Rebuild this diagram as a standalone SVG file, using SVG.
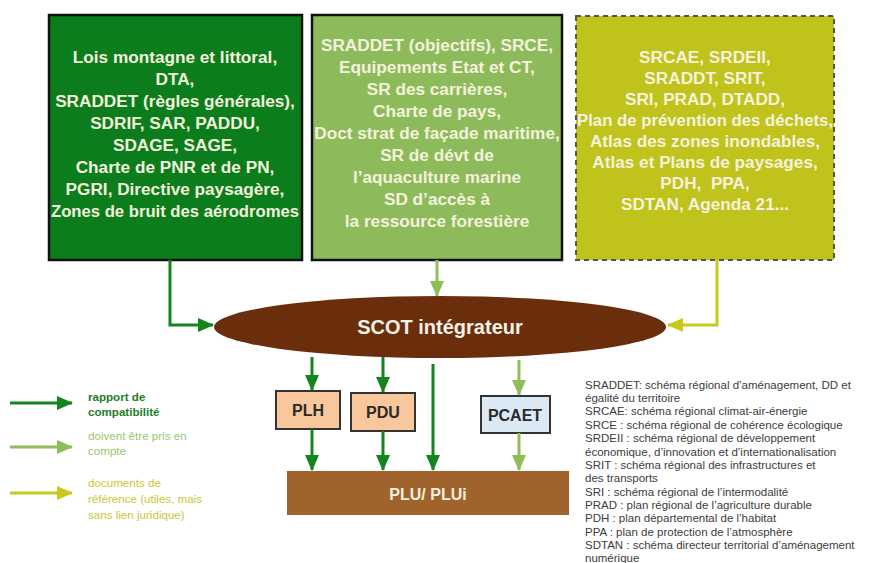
<svg xmlns="http://www.w3.org/2000/svg" width="869" height="563" viewBox="0 0 869 563">
<style>
.bt{font-family:"Liberation Sans",Arial,sans-serif;font-weight:bold;font-size:17.2px;fill:#f4f2dc;text-anchor:middle}
.lg{font-family:"Liberation Sans",Arial,sans-serif;font-size:11.6px}
.gl{font-family:"Liberation Sans",Arial,sans-serif;font-size:11.5px;fill:#3c3c3c}
.dg{stroke:#14851c;stroke-width:3;fill:none}
.lgr{stroke:#8fbd5a;stroke-width:3;fill:none}
.yl{stroke:#c9c81c;stroke-width:3;fill:none}
.sb{stroke:#333;stroke-width:2}
</style>
<defs>
<marker id="ad" markerUnits="userSpaceOnUse" markerWidth="16" markerHeight="14" refX="15" refY="7" orient="auto"><path d="M0,0 L16,7 L0,14 Z" fill="#14851c"/></marker>
<marker id="al" markerUnits="userSpaceOnUse" markerWidth="16" markerHeight="14" refX="15" refY="7" orient="auto"><path d="M0,0 L16,7 L0,14 Z" fill="#8fbd5a"/></marker>
<marker id="ay" markerUnits="userSpaceOnUse" markerWidth="16" markerHeight="14" refX="15" refY="7" orient="auto"><path d="M0,0 L16,7 L0,14 Z" fill="#c9c81c"/></marker>
</defs>
<rect width="869" height="563" fill="#fff"/>

<g id="box1">
<rect x="49" y="15" width="253" height="245" fill="#0b7d1c" stroke="#111" stroke-width="2.5"/>
<text class="bt" x="175" y="63">Lois montagne et littoral,</text>
<text class="bt" x="175" y="85">DTA,</text>
<text class="bt" x="175" y="107">SRADDET (règles générales),</text>
<text class="bt" x="175" y="129">SDRIF, SAR, PADDU,</text>
<text class="bt" x="175" y="151">SDAGE, SAGE,</text>
<text class="bt" x="175" y="173">Charte de PNR et de PN,</text>
<text class="bt" x="175" y="195">PGRI, Directive paysagère,</text>
<text class="bt" x="175" y="217" textLength="248" lengthAdjust="spacingAndGlyphs">Zones de bruit des aérodromes</text>
</g>

<g id="box2">
<rect x="312" y="15" width="250" height="245" fill="#8dbb5b" stroke="#111" stroke-width="2.5"/>
<text class="bt" x="437" y="51">SRADDET (objectifs), SRCE,</text>
<text class="bt" x="437" y="73">Equipements Etat et CT,</text>
<text class="bt" x="437" y="95">SR des carrières,</text>
<text class="bt" x="437" y="117">Charte de pays,</text>
<text class="bt" x="437" y="139">Doct strat de façade maritime,</text>
<text class="bt" x="437" y="161">SR de dévt de</text>
<text class="bt" x="437" y="183">l’aquaculture marine</text>
<text class="bt" x="437" y="205">SD d’accès à</text>
<text class="bt" x="437" y="227">la ressource forestière</text>
</g>

<g id="box3">
<rect x="576" y="16" width="258" height="244" fill="#c0c31c" stroke="#555" stroke-width="2" stroke-dasharray="5,4"/>
<text class="bt" x="705" y="63">SRCAE, SRDEII,</text>
<text class="bt" x="705" y="84">SRADDT, SRIT,</text>
<text class="bt" x="705" y="105">SRI, PRAD, DTADD,</text>
<text class="bt" x="705" y="126" textLength="256" lengthAdjust="spacingAndGlyphs">Plan de prévention des déchets,</text>
<text class="bt" x="705" y="147">Atlas des zones inondables,</text>
<text class="bt" x="705" y="168">Atlas et Plans de paysages,</text>
<text class="bt" x="705" y="189">PDH, &#160;PPA,</text>
<text class="bt" x="705" y="210">SDTAN, Agenda 21...</text>
</g>

<g id="scot">
<ellipse cx="440" cy="327" rx="226" ry="31" fill="#6a2e0d"/>
<text x="440" y="334" font-family="Liberation Sans,Arial,sans-serif" font-weight="bold" font-size="20" fill="#f4f2e6" text-anchor="middle">SCOT intégrateur</text>
</g>

<g id="plh">
<rect x="276" y="391" width="64" height="38" fill="#f8c89c" class="sb"/>
<text x="308" y="416" font-family="Liberation Sans,Arial,sans-serif" font-weight="bold" font-size="16" fill="#2a2a2a" text-anchor="middle">PLH</text>
</g>
<g id="pdu">
<rect x="351" y="393" width="64" height="38" fill="#f8c89c" class="sb"/>
<text x="383" y="418" font-family="Liberation Sans,Arial,sans-serif" font-weight="bold" font-size="16" fill="#2a2a2a" text-anchor="middle">PDU</text>
</g>
<g id="pcaet">
<rect x="481" y="396" width="69" height="37" fill="#dbe9f5" class="sb"/>
<text x="515" y="421" font-family="Liberation Sans,Arial,sans-serif" font-weight="bold" font-size="16" fill="#2a2a2a" text-anchor="middle">PCAET</text>
</g>
<g id="plu">
<rect x="287" y="471" width="282" height="44" fill="#a0632b"/>
<text x="428" y="500" font-family="Liberation Sans,Arial,sans-serif" font-weight="bold" font-size="16" fill="#f4f0e0" text-anchor="middle">PLU/ PLUi</text>
</g>

<g id="connectors">
<path class="dg" d="M170,260 V325 H213" marker-end="url(#ad)"/>
<path class="lgr" d="M437,260 V296" marker-end="url(#al)"/>
<path class="yl" d="M717,260 V325 H668" marker-end="url(#ay)"/>
<path class="dg" d="M312,357 V390" marker-end="url(#ad)"/>
<path class="dg" d="M383,357 V392" marker-end="url(#ad)"/>
<path class="dg" d="M433,364 V470" marker-end="url(#ad)"/>
<path class="lgr" d="M519,360 V395" marker-end="url(#al)"/>
<path class="dg" d="M312,429 V470" marker-end="url(#ad)"/>
<path class="dg" d="M383,431 V470" marker-end="url(#ad)"/>
<path class="lgr" d="M519,433 V470" marker-end="url(#al)"/>
</g>

<g id="legend">
<path class="dg" d="M10,403 H72" marker-end="url(#ad)"/>
<path class="lgr" d="M10,447 H72" marker-end="url(#al)"/>
<path class="yl" d="M10,493 H72" marker-end="url(#ay)"/>
<text class="lg" x="88" y="401" fill="#1e7d28" font-weight="bold">rapport de</text>
<text class="lg" x="88" y="416" fill="#1e7d28" font-weight="bold">compatibilité</text>
<text class="lg" x="88" y="440" fill="#9cc46e">doivent être pris en</text>
<text class="lg" x="88" y="455" fill="#9cc46e">compte</text>
<text class="lg" x="88" y="487" fill="#c8c83a">documents de</text>
<text class="lg" x="88" y="503" fill="#c8c83a">référence (utiles, mais</text>
<text class="lg" x="88" y="519" fill="#c8c83a">sans lien juridique)</text>
</g>

<g id="glossary">
<text class="gl" x="585" y="389">SRADDET: schéma régional d’aménagement, DD et</text>
<text class="gl" x="585" y="402">égalité du territoire</text>
<text class="gl" x="585" y="415">SRCAE: schéma régional climat-air-énergie</text>
<text class="gl" x="585" y="429">SRCE : schéma régional de cohérence écologique</text>
<text class="gl" x="585" y="442">SRDEII : schéma régional de développement</text>
<text class="gl" x="585" y="456">économique, d’innovation et d’internationalisation</text>
<text class="gl" x="585" y="469">SRIT : schéma régional des infrastructures et</text>
<text class="gl" x="585" y="482">des transports</text>
<text class="gl" x="585" y="496">SRI : schéma régional de l’intermodalité</text>
<text class="gl" x="585" y="509">PRAD : plan régional de l’agriculture durable</text>
<text class="gl" x="585" y="522">PDH : plan départemental de l’habitat</text>
<text class="gl" x="585" y="536">PPA : plan de protection de l’atmosphère</text>
<text class="gl" x="585" y="549">SDTAN : schéma directeur territorial d’aménagement</text>
<text class="gl" x="585" y="562">numérique</text>
</g>
</svg>
